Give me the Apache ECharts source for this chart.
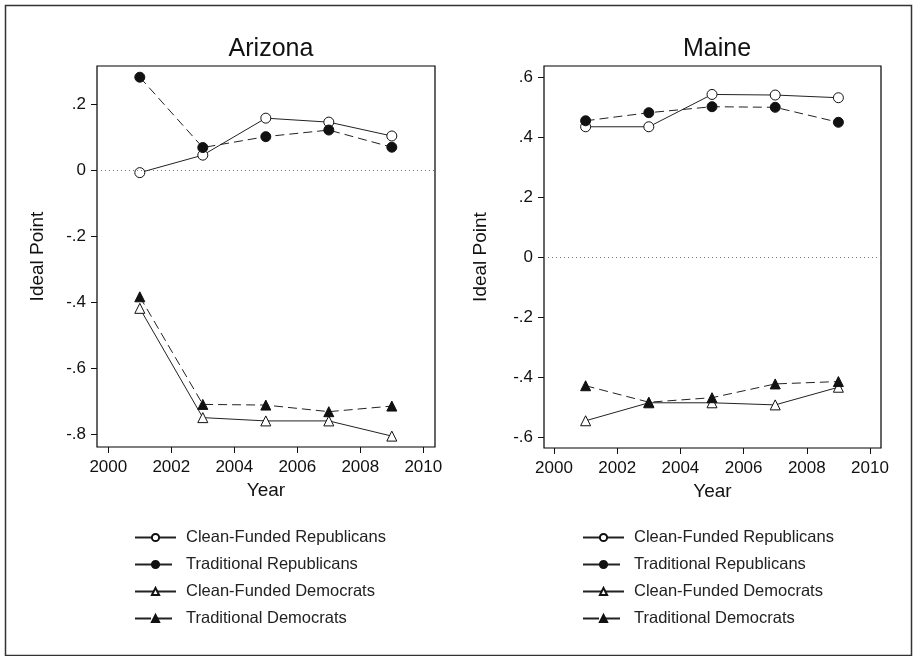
<!DOCTYPE html>
<html>
<head>
<meta charset="utf-8">
<script src="https://cdn.jsdelivr.net/npm/echarts@6/dist/echarts.min.js"></script>
<style>
html,body{margin:0;padding:0;background:#fff;}
#c{width:913px;height:656px;}
</style>
</head>
<body>
<div id="c"></div>
<script>
// ---- data ----
const years = [2001, 2003, 2005, 2007, 2009];
const seriesNames = ['Clean-Funded Republicans', 'Traditional Republicans', 'Clean-Funded Democrats', 'Traditional Democrats'];

const azCleanRep = [-0.008, 0.045, 0.157, 0.145, 0.103];
const azTradRep  = [0.281, 0.068, 0.101, 0.121, 0.069];
const azCleanDem = [-0.419, -0.750, -0.760, -0.760, -0.806];
const azTradDem  = [-0.384, -0.710, -0.712, -0.732, -0.715];

const meCleanRep = [0.436, 0.436, 0.544, 0.542, 0.533];
const meTradRep  = [0.456, 0.483, 0.503, 0.501, 0.451];
const meCleanDem = [-0.546, -0.486, -0.486, -0.493, -0.434];
const meTradDem  = [-0.429, -0.484, -0.469, -0.423, -0.415];

const xTicks = [2000, 2002, 2004, 2006, 2008, 2010];
const azYTicks = [-0.8, -0.6, -0.4, -0.2, 0, 0.2];
const meYTicks = [-0.6, -0.4, -0.2, 0, 0.2, 0.4, 0.6];

// ---- helpers ----
const FONT = '"Liberation Sans", Arial, sans-serif';
const INK = '#111';
function fmtY(v) {
  if (Math.abs(v) < 1e-9) return '0';
  const s = String(Math.round(Math.abs(v) * 100) / 100).replace(/^0/, '');
  return (v < 0 ? '-' : '') + s;
}
function pairs(vals) { return years.map((y, i) => [y, vals[i]]); }

const styles = [
  { symbol: 'circle', fill: '#fff', dash: 'solid', legendDash: 'solid' },
  { symbol: 'circle', fill: INK, dash: [9, 5], legendDash: [16, 5] },
  { symbol: 'triangle', fill: '#fff', dash: 'solid', legendDash: 'solid' },
  { symbol: 'triangle', fill: INK, dash: [9, 5], legendDash: [16, 5] }
];

function mkSeries(gridIdx, arrs) {
  return arrs.map((vals, k) => {
    const st = styles[k];
    const s = {
      type: 'line',
      name: seriesNames[k],
      xAxisIndex: gridIdx,
      yAxisIndex: gridIdx,
      data: pairs(vals),
      symbol: st.symbol,
      symbolSize: 10,
      showAllSymbol: true,
      lineStyle: { color: '#222', width: 1, type: st.dash },
      itemStyle: { color: st.fill, borderColor: INK, borderWidth: 1 },
      emphasis: { disabled: true },
      z: 3 + k
    };
    if (k === 0) {
      s.markLine = {
        silent: true,
        symbol: ['none', 'none'],
        label: { show: false },
        lineStyle: { color: '#777', width: 1, type: [1, 3] },
        data: [{ yAxis: 0 }]
      };
    }
    return s;
  });
}

function xAxisCfg(gridIdx, min, max) {
  return {
    type: 'value', gridIndex: gridIdx, min: min, max: max, position: 'bottom',
    name: 'Year', nameLocation: 'middle', nameGap: 34,
    nameTextStyle: { fontFamily: FONT, fontSize: 19, color: INK },
    axisLine: { show: false, onZero: false },
    axisTick: { show: true, length: 6, customValues: xTicks, lineStyle: { color: INK, width: 1 } },
    axisLabel: { customValues: xTicks, margin: 12, fontFamily: FONT, fontSize: 17, color: INK, formatter: v => String(v) },
    splitLine: { show: false }
  };
}
function yAxisCfg(gridIdx, min, max, ticks, nameGap) {
  return {
    type: 'value', gridIndex: gridIdx, min: min, max: max, position: 'left',
    name: 'Ideal Point', nameLocation: 'middle', nameGap: nameGap,
    nameTextStyle: { fontFamily: FONT, fontSize: 19, color: INK },
    axisLine: { show: false, onZero: false },
    axisTick: { show: true, length: 6, customValues: ticks, lineStyle: { color: INK, width: 1 } },
    axisLabel: { customValues: ticks, margin: 11, fontFamily: FONT, fontSize: 17, color: INK, formatter: fmtY },
    splitLine: { show: false }
  };
}
function legendCfg(left) {
  return {
    orient: 'vertical', left: left, top: 524,
    itemWidth: 41, itemHeight: 9, itemGap: 10,
    data: seriesNames.map((n, k) => ({ name: n, lineStyle: { type: styles[k].legendDash } })),
    selectedMode: false,
    textStyle: { fontFamily: FONT, fontSize: 16.5, color: '#222', padding: [0, 0, 0, 5] }
  };
}

const chart = echarts.init(document.getElementById('c'), null, { renderer: 'canvas' });
chart.setOption({
  animation: false,
  backgroundColor: '#fff',
  title: [
    { text: 'Arizona', left: 266, top: 32, textAlign: 'center', textStyle: { fontFamily: FONT, fontSize: 25, fontWeight: 'normal', color: INK } },
    { text: 'Maine', left: 712, top: 32, textAlign: 'center', textStyle: { fontFamily: FONT, fontSize: 25, fontWeight: 'normal', color: INK } }
  ],
  grid: [
    { left: 97, top: 66, width: 338, height: 381, show: true, borderColor: '#000', borderWidth: 1.2, backgroundColor: 'transparent' },
    { left: 544, top: 66, width: 337, height: 382, show: true, borderColor: '#000', borderWidth: 1.2, backgroundColor: 'transparent' }
  ],
  xAxis: [xAxisCfg(0, 1999.641, 2010.371), xAxisCfg(1, 1999.683, 2010.348)],
  yAxis: [yAxisCfg(0, -0.839, 0.315, azYTicks, 50), yAxisCfg(1, -0.637, 0.639, meYTicks, 54)],
  legend: [legendCfg(129), legendCfg(577)],
  graphic: [
    { type: 'rect', left: 3, top: 3, shape: { x: 0, y: 0, width: 906, height: 650 }, style: { fill: 'none', stroke: '#333', lineWidth: 1.5 }, silent: true }
  ],
  series: [].concat(
    mkSeries(0, [azCleanRep, azTradRep, azCleanDem, azTradDem]),
    mkSeries(1, [meCleanRep, meTradRep, meCleanDem, meTradDem])
  )
});
</script>
</body>
</html>
